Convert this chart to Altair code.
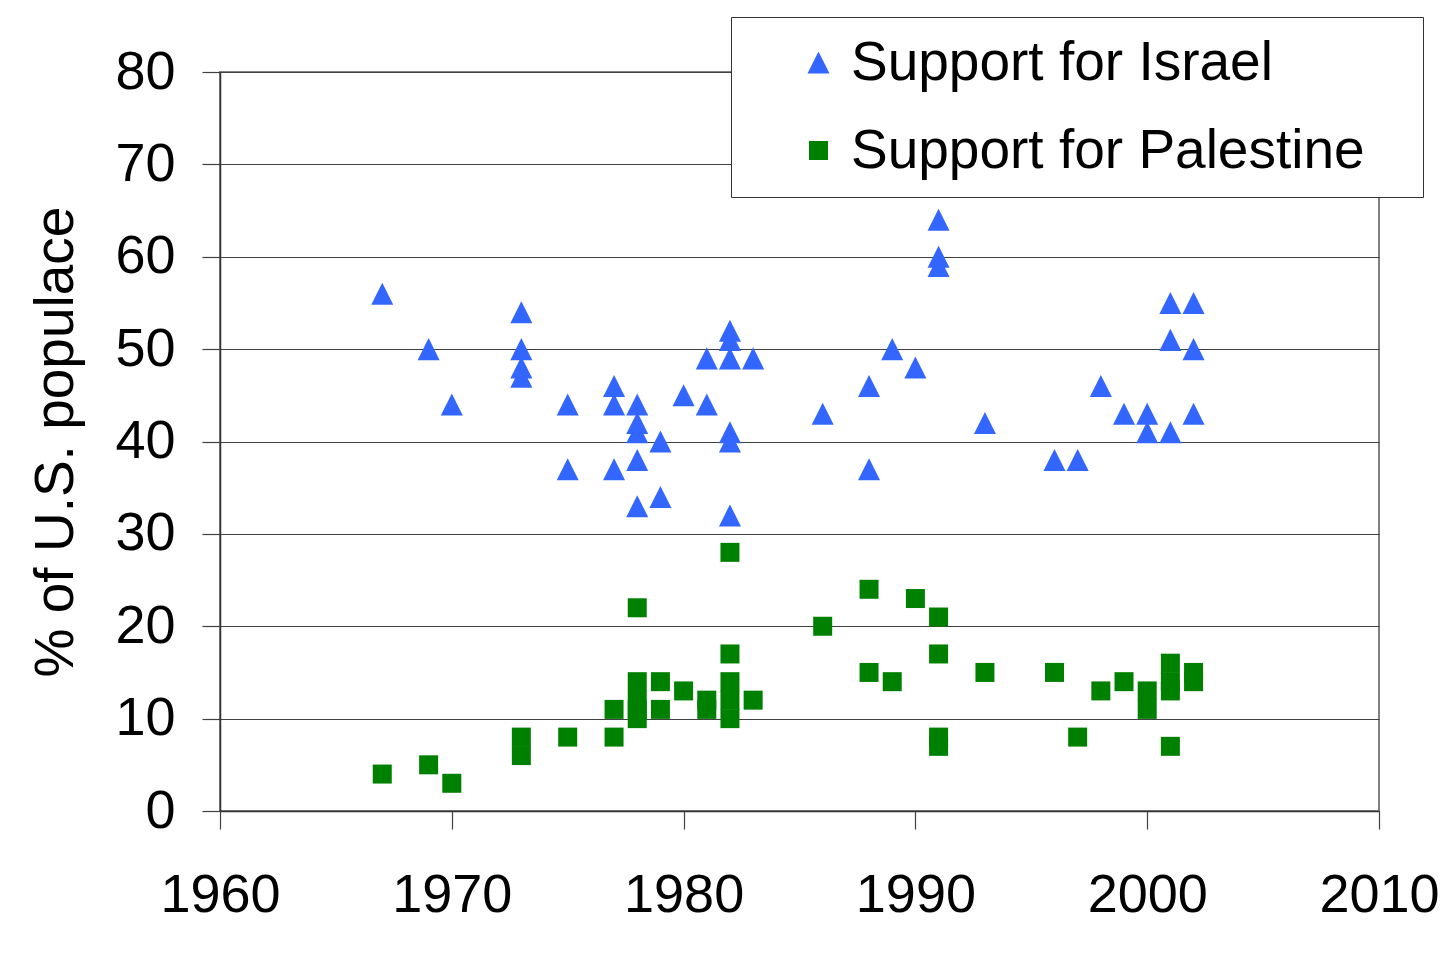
import altair as alt
import pandas as pd

series_names = ["Support for Israel", "Support for Palestine"]

israel_years = [1967, 1969, 1970, 1973, 1973, 1973, 1973, 1975, 1975,
                1977, 1977, 1977, 1978, 1978, 1978, 1978, 1978, 1979, 1979,
                1980, 1981, 1981, 1982, 1982, 1982, 1982, 1982, 1982, 1983,
                1986, 1988, 1988, 1989, 1990, 1991, 1991, 1991, 1993,
                1996, 1997, 1998, 1999, 2000, 2000, 2001, 2001, 2001,
                2002, 2002, 2002]
israel_values = [56, 50, 44, 54, 50, 48, 47, 44, 37,
                 46, 44, 37, 44, 42, 41, 38, 33, 40, 34,
                 45, 49, 44, 52, 51, 49, 41, 40, 32, 49,
                 43, 46, 37, 50, 48, 64, 60, 59, 42,
                 38, 38, 46, 43, 43, 41, 55, 51, 41,
                 55, 50, 43]

palestine_years = [1967, 1969, 1970, 1973, 1973, 1975, 1977, 1977,
                   1978, 1978, 1978, 1978, 1978, 1979, 1979, 1980, 1981, 1981,
                   1982, 1982, 1982, 1982, 1982, 1983, 1986, 1988, 1988,
                   1989, 1990, 1991, 1991, 1991, 1991, 1993, 1996, 1997,
                   1998, 1999, 2000, 2000, 2001, 2001, 2001, 2001, 2002, 2002]
palestine_values = [4, 5, 3, 8, 6, 8, 11, 8,
                    22, 14, 12, 11, 10, 14, 11, 13, 12, 11,
                    28, 17, 14, 12, 10, 12, 20, 24, 15,
                    14, 23, 21, 17, 8, 7, 15, 15, 8,
                    13, 14, 13, 11, 16, 14, 13, 7, 15, 14]

x_ticks = [1960, 1970, 1980, 1990, 2000, 2010]
y_ticks = [0, 10, 20, 30, 40, 50, 60, 70, 80]

df = pd.concat([
    pd.DataFrame({"year": israel_years, "value": israel_values, "series": series_names[0]}),
    pd.DataFrame({"year": palestine_years, "value": palestine_values, "series": series_names[1]}),
])

FONT = "Liberation Sans"
tri = "M0,-1.16L1.16,1.16L-1.16,1.16Z"

legend = alt.Legend(
    title="|", titleOrient="right", titleOpacity=0, titleFontSize=10, titlePadding=37,
    orient="none", legendX=511, legendY=-55,
    labelFont=FONT, labelFontSize=55, labelColor="black", labelLimit=2000,
    strokeColor="#333333", fillColor="white", padding=18,
    symbolOffset=42, labelOffset=5, rowPadding=32,
    symbolSize=361, symbolStrokeWidth=0, symbolType="square",
)

chart = alt.Chart(df).mark_point(filled=True, opacity=1, size=361, strokeWidth=0).encode(
    x=alt.X("year:Q", scale=alt.Scale(domain=[1960, 2010], nice=False, zero=False),
            axis=alt.Axis(values=x_ticks, format="d", grid=False, title=None,
                          labelPadding=39, labelFlush=False, labelOverlap=False)),
    y=alt.Y("value:Q", scale=alt.Scale(domain=[0, 80], nice=False),
            axis=alt.Axis(values=y_ticks, title="% of U.S. populace", grid=True,
                          titleFont=FONT, titleFontSize=55, titleFontWeight="normal",
                          titleColor="black", titlePadding=30, labelPadding=27)),
    color=alt.Color("series:N", scale=alt.Scale(domain=series_names, range=["#3366FF", "#008000"]),
                    legend=legend),
    shape=alt.Shape("series:N", scale=alt.Scale(domain=series_names, range=[tri, "square"]),
                    legend=legend),
).properties(
    width=1159, height=739,
    autosize=alt.AutoSizeParams(type="none"),
    padding={"left": 212, "top": 64, "right": 66, "bottom": 137},
    background="white",
).configure_axis(
    labelFont=FONT, labelFontSize=54, labelColor="black",
    tickColor="#404040", tickSize=18, tickWidth=1.2,
    domainColor="#333333", domainWidth=1.5,
    gridColor="#404040", gridWidth=1.2,
).configure_view(
    stroke="#808080", strokeWidth=2,
)

chart.save("out.html", embed_options={"renderer": "svg", "actions": False})
